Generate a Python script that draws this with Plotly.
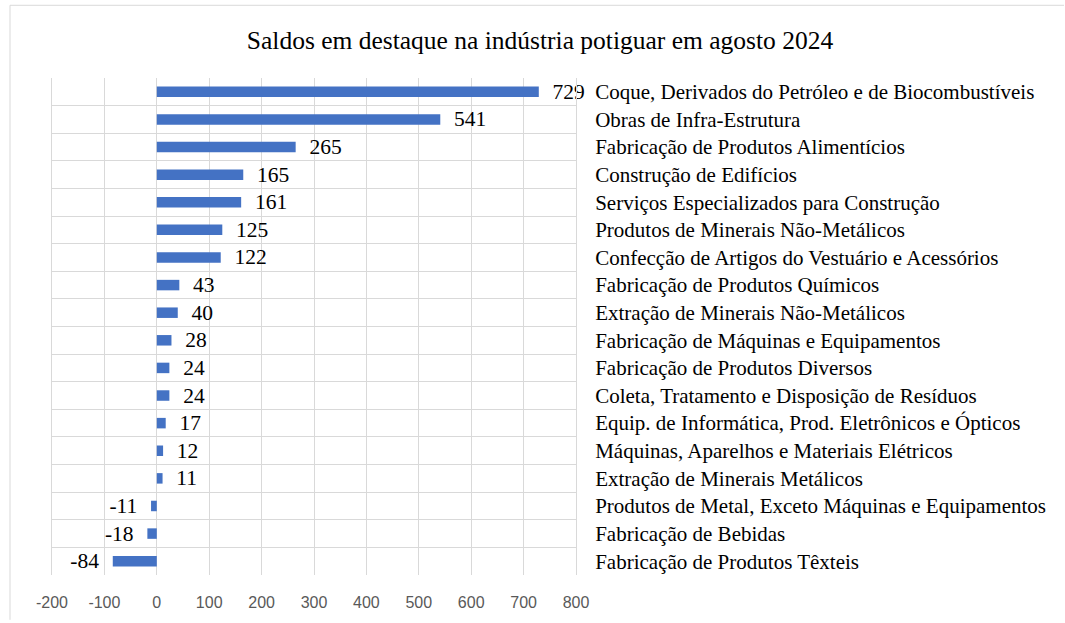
import plotly.graph_objects as go

categories = [
    "Coque, Derivados do Petróleo e de Biocombustíveis",
    "Obras de Infra-Estrutura",
    "Fabricação de Produtos Alimentícios",
    "Construção de Edifícios",
    "Serviços Especializados para Construção",
    "Produtos de Minerais Não-Metálicos",
    "Confecção de Artigos do Vestuário e Acessórios",
    "Fabricação de Produtos Químicos",
    "Extração de Minerais Não-Metálicos",
    "Fabricação de Máquinas e Equipamentos",
    "Fabricação de Produtos Diversos",
    "Coleta, Tratamento e Disposição de Resíduos",
    "Equip. de Informática, Prod. Eletrônicos e Ópticos",
    "Máquinas, Aparelhos e Materiais Elétricos",
    "Extração de Minerais Metálicos",
    "Produtos de Metal, Exceto Máquinas e Equipamentos",
    "Fabricação de Bebidas",
    "Fabricação de Produtos Têxteis",
]
values = [729, 541, 265, 165, 161, 125, 122, 43, 40, 28, 24, 24, 17, 12, 11, -11, -18, -84]
x_ticks = [-200, -100, 0, 100, 200, 300, 400, 500, 600, 700, 800]

W, H = 1065, 623
L, R, T, B = 52, 576, 78, 577
pw, ph = R - L, B - T

pad = "\u00a0\u00a0"
labels = [(pad + str(v)) if v >= 0 else (str(v) + pad) for v in values]

fig = go.Figure(go.Bar(
    x=values, y=categories, orientation="h",
    marker=dict(color="#4472c4", line=dict(width=0)),
    width=0.38,
    text=labels, textposition="outside", cliponaxis=False, constraintext="none",
    textfont=dict(family="Liberation Serif", size=21.5, color="#000000"),
    hoverinfo="x+y",
))

# outer chart frame (only top and left edges are visible in the crop)
fx0 = (10 - L) / pw
fx1 = (W - 1 - L) / pw
fy_top = 1 + (T - 5) / ph
fy_bot = -(H - 1 - B) / ph

fig.update_layout(
    width=W, height=H,
    margin=dict(l=L, r=W - R, t=T, b=H - B),
    paper_bgcolor="white", plot_bgcolor="white",
    showlegend=False,
    title=dict(text="Saldos em destaque na indústria potiguar em agosto 2024",
               x=(540 - L) / pw, xref="paper", xanchor="center",
               y=1 - 40 / H, yanchor="middle",
               font=dict(family="Liberation Serif", size=25.5, color="#000000")),
    xaxis=dict(range=[-200, 800], tickvals=x_ticks, ticktext=[str(t) for t in x_ticks],
               showgrid=True, gridcolor="#d9d9d9", gridwidth=1, zeroline=False,
               showline=False, ticks="", ticklabelstandoff=16,
               tickfont=dict(family="Liberation Sans", size=16, color="#595959")),
    yaxis=dict(type="category", categoryorder="array", categoryarray=categories[::-1],
               side="right", tickson="boundaries", showgrid=True, gridcolor="#d9d9d9",
               gridwidth=1, ticks="", showline=True, linecolor="#d9d9d9", mirror=True,
               ticklabelstandoff=14,
               tickfont=dict(family="Liberation Serif", size=21, color="#000000")),
    bargap=0.6,
    shapes=[
        dict(type="line", xref="paper", yref="paper", x0=fx0, x1=fx1, y0=fy_top, y1=fy_top,
             line=dict(color="#d9d9d9", width=1), layer="below"),
        dict(type="line", xref="paper", yref="paper", x0=fx0, x1=fx0, y0=fy_bot, y1=fy_top,
             line=dict(color="#d9d9d9", width=1), layer="below"),
    ],
)

fig.write_html(
    "out.html", config={"displayModeBar": False},
    post_script=("document.documentElement.style.overflow='hidden';"
                 "document.body.style.margin='0';document.body.style.overflow='hidden';"
                 "document.querySelectorAll('svg.main-svg').forEach(function(s){s.style.overflow='hidden';});"))
